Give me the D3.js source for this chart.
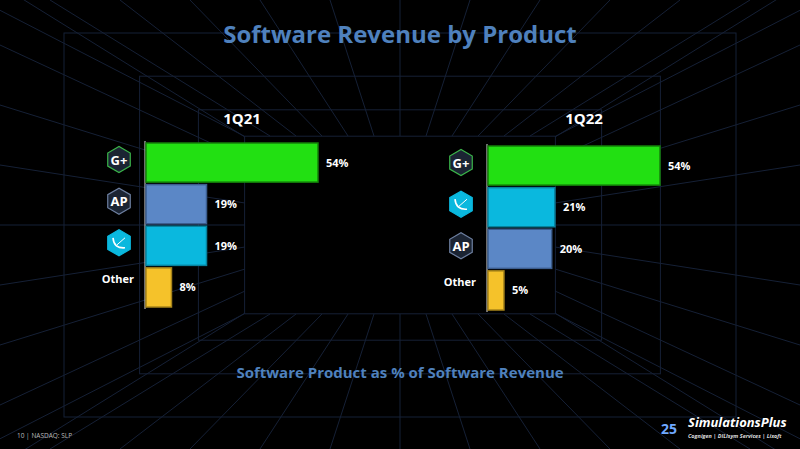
<!DOCTYPE html>
<html><head><meta charset="utf-8">
<script src="https://cdn.jsdelivr.net/npm/d3@7"></script>
<style>body{margin:0;background:#000}svg{display:block}text{font-family:"Open Sans",sans-serif;font-weight:bold}</style>
</head><body>
<script>
const periods = ['1Q21', '1Q22'];
const products21 = ['GPX', 'ADMET', 'MB', 'Other'];
const values21 = [54, 19, 19, 8];
const products22 = ['GPX', 'MB', 'ADMET', 'Other'];
const values22 = [54, 21, 20, 5];

const colors = {GPX: '#22e012', ADMET: '#5b87c6', MB: '#0ab8de', Other: '#f5c22a'};
const strokes = {GPX: '#14800a', ADMET: '#3b5d8e', MB: '#07829e', Other: '#a8851a'};

const W = 800, H = 449;
const svg = d3.select('body').append('svg').attr('width', W).attr('height', H);
svg.append('rect').attr('width', W).attr('height', H).attr('fill', '#000');

// perspective grid backdrop
const g = svg.append('g').attr('stroke', '#24365a').attr('fill', 'none').attr('stroke-width', 1).attr('opacity', 0.6);
const cx = 400, cy = 225;
[1, 0.8, 0.62, 0.48, 0.37].forEach(s => {
	g.append('rect').attr('x', cx - 420 * s).attr('y', cy - 240 * s).attr('width', 840 * s).attr('height', 480 * s);
});
d3.range(-6, 7).forEach(i => {
	g.append('line').attr('x1', cx + i * 70).attr('y1', 0).attr('x2', cx + i * 26).attr('y2', cy - 89);
	g.append('line').attr('x1', cx + i * 70).attr('y1', H).attr('x2', cx + i * 26).attr('y2', cy + 89);
});
d3.range(-4, 5).forEach(i => {
	g.append('line').attr('x1', 0).attr('y1', cy + i * 60).attr('x2', cx - 155).attr('y2', cy + i * 22);
	g.append('line').attr('x1', W).attr('y1', cy + i * 60).attr('x2', cx + 155).attr('y2', cy + i * 22);
});

svg.append('text').attr('x', 400).attr('y', 43).attr('text-anchor', 'middle')
	.attr('fill', '#4f81bd').attr('font-size', 24).text('Software Revenue by Product');
svg.append('text').attr('x', 400).attr('y', 378).attr('text-anchor', 'middle')
	.attr('fill', '#4f81bd').attr('font-size', 15).text('Software Product as % of Software Revenue');
svg.append('text').attr('x', 17).attr('y', 438).attr('fill', '#bbb').attr('font-size', 6.5)
	.style('font-weight', 'normal').text('10 | NASDAQ: SLP');
svg.append('text').attr('x', 688).attr('y', 427).attr('fill', '#fff').attr('font-size', 13)
	.attr('font-style', 'italic').text('SimulationsPlus');
svg.append('text').attr('x', 688).attr('y', 438).attr('fill', '#ddd').attr('font-size', 5.5)
	.attr('font-style', 'italic').text('Cognigen | DILIsym Services | Lixoft');
svg.append('text').attr('x', 669).attr('y', 434).attr('fill', '#6fa8ff').attr('font-size', 14).attr('text-anchor', 'middle').text('25');

const x = d3.scaleLinear().domain([0, 54]).range([0, 172]);

function hexIcon(sel, cxI, cyI, kind) {
	const r = 13;
	const pts = d3.range(6).map(k => {
		const a = Math.PI / 6 + k * Math.PI / 3;
		return [cxI + r * Math.cos(a), cyI + r * Math.sin(a)];
	});
	const fill = kind === 'MB' ? '#0ab8de' : '#1b2433';
	const stroke = kind === 'GPX' ? '#3bb54a' : kind === 'MB' ? '#0ab8de' : '#6d7fa0';
	sel.append('polygon').attr('points', pts.map(p => p.join(',')).join(' '))
		.attr('fill', fill).attr('stroke', stroke).attr('stroke-width', 1.2);
	if (kind === 'MB') {
		sel.append('path').attr('d', `M${cxI - 6},${cyI - 5} Q${cxI - 5},${cyI + 6} ${cxI + 6},${cyI + 5}`)
			.attr('stroke', '#fff').attr('fill', 'none').attr('stroke-width', 1.6);
		sel.append('line').attr('x1', cxI - 2).attr('y1', cyI + 2).attr('x2', cxI + 6).attr('y2', cyI - 5)
			.attr('stroke', '#fff').attr('stroke-width', 1);
	} else {
		sel.append('text').attr('x', cxI).attr('y', cyI + 5).attr('text-anchor', 'middle')
			.attr('fill', '#fff').attr('font-size', 13).text(kind === 'GPX' ? 'G+' : 'AP');
	}
}

function panel(x0, top, title, products, values) {
	const y = d3.scaleBand().domain(products).range([top, top + 164]).paddingInner(0.06);
	const p = svg.append('g');
	p.append('text').attr('x', x0 + 97).attr('y', 124).attr('text-anchor', 'middle')
		.attr('fill', '#fff').attr('font-size', 15).text(title);
	p.append('line').attr('x1', x0).attr('x2', x0).attr('y1', top - 2).attr('y2', top + 166)
		.attr('stroke', '#ddd').attr('stroke-width', 1);
	p.selectAll('rect.bar').data(products).enter().append('rect')
		.attr('x', x0 + 1).attr('y', d => y(d))
		.attr('width', (d, i) => x(values[i])).attr('height', y.bandwidth())
		.attr('fill', d => colors[d]).attr('stroke', d => strokes[d]).attr('stroke-width', 1.5);
	p.selectAll('text.val').data(products).enter().append('text')
		.attr('x', (d, i) => x0 + x(values[i]) + 9).attr('y', d => y(d) + y.bandwidth() / 2 + 4)
		.attr('fill', '#fff').attr('font-size', 11).text((d, i) => values[i] + '%');
	products.forEach(d => {
		if (d === 'Other') {
			p.append('text').attr('x', x0 - 11).attr('y', y(d) + 15).attr('text-anchor', 'end')
				.attr('fill', '#fff').attr('font-size', 11).text('Other');
		} else hexIcon(p, x0 - 26, y(d) + y.bandwidth() / 2 - 3, d);
	});
}
panel(145, 143, periods[0], products21, values21);
panel(487, 146, periods[1], products22, values22);
</script>
</body></html>
